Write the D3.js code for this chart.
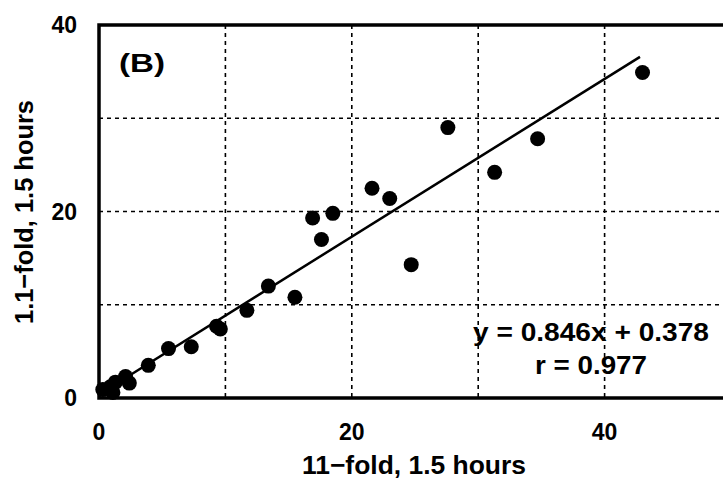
<!DOCTYPE html>
<html>
<head>
<meta charset="utf-8">
<script src="https://cdn.jsdelivr.net/npm/d3@7"></script>
<style>
  body { margin: 0; background: #fff; }
  text { font-family: "Liberation Sans", Arial, sans-serif; font-weight: bold; fill: #000; }
</style>
</head>
<body>
<svg id="chart" width="723" height="491"></svg>
<script>
// values (x = 11-fold, y = 1.1-fold)
var xVals = [43.0, 34.7, 31.3, 27.6, 23.0, 21.6, 24.7, 18.5, 16.9, 17.6, 15.5, 13.4, 11.7, 9.6, 9.3, 7.3, 5.5, 3.9, 2.1, 2.4, 1.3, 0.9, 0.3, 1.1];
var yVals = [34.9, 27.8, 24.2, 29.0, 21.4, 22.5, 14.3, 19.8, 19.3, 17.0, 10.8, 12.0, 9.4, 7.4, 7.7, 5.5, 5.3, 3.5, 2.3, 1.6, 1.7, 1.2, 0.9, 0.6];
var xTicks = [0, 20, 40];
var yTicks = [0, 20, 40];
var xGrid = [10, 20, 30, 40];
var yGrid = [10, 20, 30];
var slope = 0.846, intercept = 0.378;
var fitRange = [0, 42.8];

var svg = d3.select('#chart');

// plot area runs off the right edge of the window
var x = d3.scaleLinear([0, 50], [99, 731]);
var y = d3.scaleLinear([0, 40], [398, 25]);

// dotted grid
svg.selectAll('.vgrid').data(xGrid).enter().append('line')
    .attr('x1', d => x(d)).attr('x2', d => x(d))
    .attr('y1', y(40)).attr('y2', y(0))
    .attr('stroke', '#000').attr('stroke-width', 1.6)
    .attr('stroke-dasharray', '4,4');
svg.selectAll('.hgrid').data(yGrid).enter().append('line')
    .attr('x1', x(0)).attr('x2', x(50))
    .attr('y1', d => y(d)).attr('y2', d => y(d))
    .attr('stroke', '#000').attr('stroke-width', 1.6)
    .attr('stroke-dasharray', '4,4');

// frame: left, bottom, top
svg.append('path')
    .attr('d', 'M' + x(50) + ',' + y(40) + 'H' + x(0) + 'V' + y(0) + 'H' + x(50))
    .attr('fill', 'none').attr('stroke', '#000').attr('stroke-width', 3.5);

// regression line
svg.append('line')
    .attr('x1', x(fitRange[0])).attr('y1', y(slope * fitRange[0] + intercept))
    .attr('x2', x(fitRange[1])).attr('y2', y(slope * fitRange[1] + intercept))
    .attr('stroke', '#000').attr('stroke-width', 2.5);

// points
svg.selectAll('.pt').data(xVals).enter().append('circle')
    .attr('cx', d => x(d))
    .attr('cy', (d, i) => y(yVals[i]))
    .attr('r', 7.5)
    .attr('fill', '#000');

// tick labels
svg.selectAll('.xt').data(xTicks).enter().append('text')
    .attr('x', d => x(d)).attr('y', 440)
    .attr('text-anchor', 'middle').style('font-size', '23px')
    .text(d => d);
svg.selectAll('.yt').data(yTicks).enter().append('text')
    .attr('x', 77).attr('y', d => y(d) + 8)
    .attr('text-anchor', 'end').style('font-size', '23px')
    .text(d => d);

// axis titles (stretched a bit, the original font is wider)
svg.append('text')
    .attr('x', 414).attr('y', 474)
    .attr('text-anchor', 'middle').style('font-size', '26px')
    .attr('textLength', 224).attr('lengthAdjust', 'spacingAndGlyphs')
    .text('11\u2212fold, 1.5 hours');
svg.append('text')
    .attr('transform', 'translate(33,212) rotate(-90)')
    .attr('text-anchor', 'middle').style('font-size', '26px')
    .attr('textLength', 224).attr('lengthAdjust', 'spacingAndGlyphs')
    .text('1.1\u2212fold, 1.5 hours');

// panel label and equation
svg.append('text')
    .attr('x', 119).attr('y', 72)
    .style('font-size', '26px')
    .attr('textLength', 46).attr('lengthAdjust', 'spacingAndGlyphs')
    .text('(B)');
svg.append('text')
    .attr('x', 591).attr('y', 341)
    .attr('text-anchor', 'middle').style('font-size', '25px')
    .attr('textLength', 236).attr('lengthAdjust', 'spacingAndGlyphs')
    .text('y = 0.846x + 0.378');
svg.append('text')
    .attr('x', 591).attr('y', 374)
    .attr('text-anchor', 'middle').style('font-size', '25px')
    .attr('textLength', 112).attr('lengthAdjust', 'spacingAndGlyphs')
    .text('r = 0.977');
</script>
</body>
</html>
